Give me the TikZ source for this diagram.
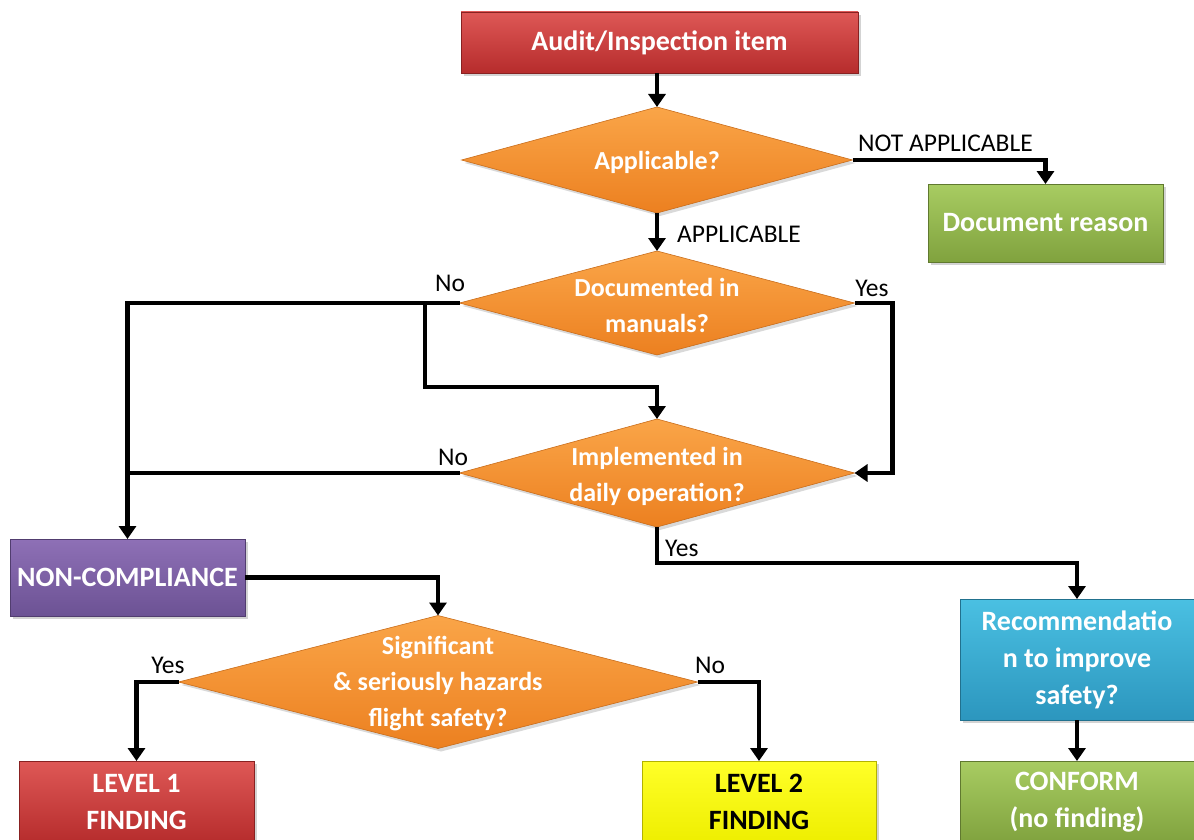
\documentclass[tikz,border=0pt]{standalone}
\usepackage{fontspec}
\setmainfont{Carlito}
\usetikzlibrary{shapes.geometric,arrows.meta,shadows,calc}

\definecolor{redT}{RGB}{222,88,86}
\definecolor{redB}{RGB}{182,44,44}
\definecolor{orT}{RGB}{250,165,72}
\definecolor{orB}{RGB}{236,128,32}
\definecolor{grT}{RGB}{168,204,98}
\definecolor{grB}{RGB}{128,162,62}
\definecolor{puT}{RGB}{142,112,182}
\definecolor{puB}{RGB}{108,82,148}
\definecolor{blT}{RGB}{74,192,226}
\definecolor{blB}{RGB}{44,150,190}
\definecolor{yeT}{RGB}{255,255,40}
\definecolor{yeB}{RGB}{238,238,0}

\tikzset{
  boxfont/.style={font=\bfseries\fontsize{28}{37}\selectfont},
  diafont/.style={font=\bfseries\fontsize{26}{36}\selectfont},
  lblfont/.style={font=\fontsize{25.5}{30}\selectfont},
  stepbox/.style 2 args={rectangle, outer sep=0pt, inner sep=2pt,
    top color=#1, bottom color=#2, draw=#2!75!black, line width=0.8pt,
    text=white, align=center, boxfont,
    drop shadow={opacity=0.35, shadow xshift=3pt, shadow yshift=-3pt}},
  decision/.style={diamond, outer sep=0pt, inner sep=0pt,
    top color=orT, bottom color=orB, draw=orB!85!black, line width=0.6pt,
    drop shadow={opacity=0.3, shadow xshift=3pt, shadow yshift=-3pt}},
  dtext/.style={text=white, align=center, diafont},
  lbl/.style={lblfont, text=black, inner sep=0pt},
  conn/.style={line width=4.5pt, -{Triangle[width=17pt,length=13pt]}},
  wire/.style={line width=4.5pt},
}

\begin{document}
\begin{tikzpicture}[x=1pt,y=-1pt]
\useasboundingbox (0,0) rectangle (1194,840);
\clip (0,0) rectangle (1194,840);

% process boxes
\node[stepbox={redT}{redB}, minimum width=397pt, minimum height=61pt] (top) at (659.5,42.5) {Audit/Inspection item};
\node[stepbox={grT}{grB}, minimum width=235pt, minimum height=78pt] (docr) at (1045.5,223) {Document reason};
\node[stepbox={puT}{puB}, minimum width=235pt, minimum height=77pt] (nc) at (127.5,577.5) {NON-COMPLIANCE};
\node[stepbox={blT}{blB}, minimum width=234pt, minimum height=121pt] (rec) at (1077,659.5) {Recommendatio\\n to improve\\safety?};
\node[stepbox={grT}{grB}, minimum width=234pt, minimum height=82pt] (conf) at (1077,802) {CONFORM\\(no finding)};
\node[stepbox={redT}{redB}, minimum width=235pt, minimum height=82pt] (lv1) at (136.5,802) {LEVEL 1\\FINDING};
\node[stepbox={yeT}{yeB}, minimum width=234pt, minimum height=82pt, text=black] (lv2) at (759,802) {LEVEL 2\\FINDING};

% decisions
\node[decision, minimum width=391pt, minimum height=106pt] (d1) at (657,160) {};
\node[dtext] (d1t) at (657,162) {Applicable?};
\node[decision, minimum width=395pt, minimum height=104pt] (d2) at (657,303) {};
\node[dtext] (d2t) at (657,305) {Documented in\\manuals?};
\node[decision, minimum width=395pt, minimum height=108pt] (d3) at (657,473) {};
\node[dtext] (d3t) at (657,476) {Implemented in\\daily operation?};
\node[decision, minimum width=519pt, minimum height=133pt] (d4) at (438,682) {};
\node[dtext] (d4t) at (438,684) {Significant\\\& seriously hazards\\flight safety?};

% connectors
\draw[conn] (top.south -| d1.north) -- (d1.north);
\draw[conn] (d1.south) -- (d2.north);
\draw[conn] (d1.east) -| (docr.north);
\draw[conn] (d2.west) -| (nc.north);
\coordinate (split) at (425,303);
\draw[conn] (split) -- ++(0,84) -| (d3.north);
\draw[conn] (d2.east) -- ++(38,0) |- (d3.east);
\draw[wire] (d3.west) -- (d3.west -| nc.north);
\draw[conn] (d3.south) -- ++(0,36) -| (rec.north);
\draw[conn] (nc.east) -| (d4.north);
\draw[conn] (d4.west) -| (lv1.north);
\draw[conn] (d4.east) -| (lv2.north);
\draw[conn] (rec.south) -- (conf.north);

% connector labels
\node[lbl, anchor=west] (lna) at (858,143) {NOT APPLICABLE};
\node[lbl, anchor=west] (lap) at (677,234) {APPLICABLE};
\node[lbl] (lno1) at (450,283) {No};
\node[lbl] (lye1) at (872,288) {Yes};
\node[lbl] (lno2) at (453,457) {No};
\node[lbl, anchor=west] (lye2) at (665,548) {Yes};
\node[lbl] (lye3) at (168,665) {Yes};
\node[lbl] (lno3) at (710,665) {No};
\end{tikzpicture}
\end{document}
